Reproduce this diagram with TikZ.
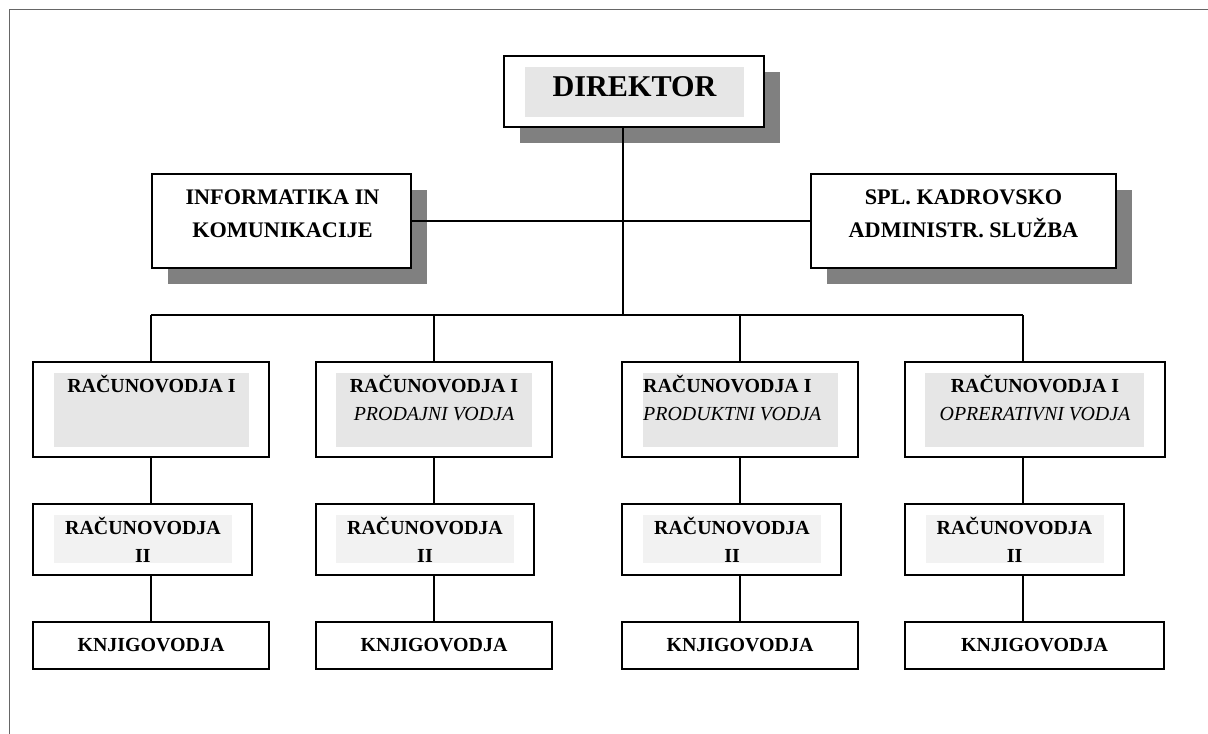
\documentclass[tikz,border=0pt]{standalone}
\usepackage{fontspec}
\setmainfont{Liberation Serif}
\usetikzlibrary{shadows}
\definecolor{shadowgray}{HTML}{808080}
\definecolor{bgA}{HTML}{E6E6E6}
\definecolor{bgB}{HTML}{F2F2F2}
\definecolor{framegray}{HTML}{666666}
\tikzset{
  box/.style n args={2}{draw=black, line width=1.9bp, fill=white, inner sep=0pt,
    minimum width=#1, minimum height=#2},
  sbox/.style n args={2}{box={#1}{#2},
    drop shadow={shadow xshift=16bp, shadow yshift=-16bp, fill=shadowgray, draw=none, opacity=1}},
  bgbox/.style n args={3}{fill=#1, draw=none, inner sep=0pt, minimum width=#2, minimum height=#3},
  tb/.style={font=\fontsize{20}{24}\selectfont\bfseries, inner sep=0pt, anchor=base},
  ti/.style={font=\fontsize{20}{24}\selectfont\itshape, inner sep=0pt, anchor=base},
  tbig/.style={font=\fontsize{22.3}{26}\selectfont\bfseries, inner sep=0pt, anchor=base},
  conn/.style={draw=black, line width=1.6bp},
}
\begin{document}
\begin{tikzpicture}[x=1bp,y=-1bp]
\useasboundingbox (0,0) rectangle (1208,734);
\fill[white] (0,0) rectangle (1208,734);
\draw[framegray, line width=1.8bp] (1208,9.5) -- (9.5,9.5) -- (9.5,734);

% top level
\node[sbox={260bp}{71bp}] (dir) at (634,91.5) {};
\node[bgbox={bgA}{219bp}{50bp}] (dirbg) at (634.5,92) {};
\node[font=\fontsize{30.3}{34}\selectfont\bfseries, inner sep=0pt, anchor=base] (tdir) at (634.5,97) {DIREKTOR};

\node[sbox={259bp}{94bp}] (inf) at (281.5,221) {};
\node[tbig] (tinf1) at (282.5,205) {INFORMATIKA IN};
\node[tbig] (tinf2) at (282.5,238) {KOMUNIKACIJE};

\node[sbox={305bp}{94bp}] (spl) at (963.5,221) {};
\node[tbig] (tspl1) at (963.5,205) {SPL. KADROVSKO};
\node[tbig] (tspl2) at (963.5,238) {ADMINISTR. SLUŽBA};

% row 1
\node[box={236bp}{95bp}] (r1c1) at (151,409.5) {};
\node[box={236bp}{95bp}] (r1c2) at (434,409.5) {};
\node[box={236bp}{95bp}] (r1c3) at (740,409.5) {};
\node[box={260bp}{95bp}] (r1c4) at (1035,409.5) {};
\node[bgbox={bgA}{195bp}{74bp}] (g1c1) at (151.5,410) {};
\node[bgbox={bgA}{196bp}{74bp}] (g1c2) at (434,410) {};
\node[bgbox={bgA}{195bp}{74bp}] (g1c3) at (740.5,410) {};
\node[bgbox={bgA}{219bp}{74bp}] (g1c4) at (1034.5,410) {};
\node[tb] (t1c1a) at (151.5,392) {RAČUNOVODJA I};
\node[tb] (t1c2a) at (434,392) {RAČUNOVODJA I};
\node[ti] (t1c2b) at (434,420) {PRODAJNI VODJA};
\node[tb, anchor=base west] (t1c3a) at (643,392) {RAČUNOVODJA I};
\node[ti, anchor=base west] (t1c3b) at (643,420) {PRODUKTNI VODJA};
\node[tb] (t1c4a) at (1035,392) {RAČUNOVODJA I};
\node[ti] (t1c4b) at (1035,420) {OPRERATIVNI VODJA};

% row 2
\node[box={219bp}{71bp}] (r2c1) at (142.5,539.5) {};
\node[box={218bp}{71bp}] (r2c2) at (425,539.5) {};
\node[box={219bp}{71bp}] (r2c3) at (731.5,539.5) {};
\node[box={219bp}{71bp}] (r2c4) at (1014.5,539.5) {};
\node[bgbox={bgB}{178bp}{48bp}] (g2c1) at (143,539) {};
\node[bgbox={bgB}{178bp}{48bp}] (g2c2) at (425,539) {};
\node[bgbox={bgB}{178bp}{48bp}] (g2c3) at (732,539) {};
\node[bgbox={bgB}{178bp}{48bp}] (g2c4) at (1014.5,539) {};
\node[tb] (t2c1a) at (143,534) {RAČUNOVODJA};
\node[tb] (t2c1b) at (143,562) {II};
\node[tb] (t2c2a) at (425,534) {RAČUNOVODJA};
\node[tb] (t2c2b) at (425,562) {II};
\node[tb] (t2c3a) at (732,534) {RAČUNOVODJA};
\node[tb] (t2c3b) at (732,562) {II};
\node[tb] (t2c4a) at (1014.5,534) {RAČUNOVODJA};
\node[tb] (t2c4b) at (1014.5,562) {II};

% row 3
\node[box={236bp}{47bp}] (r3c1) at (151,645.5) {};
\node[box={236bp}{47bp}] (r3c2) at (434,645.5) {};
\node[box={236bp}{47bp}] (r3c3) at (740,645.5) {};
\node[box={259bp}{47bp}] (r3c4) at (1034.5,645.5) {};
\node[tb] (t3c1) at (151,651) {KNJIGOVODJA};
\node[tb] (t3c2) at (434,651) {KNJIGOVODJA};
\node[tb] (t3c3) at (740,651) {KNJIGOVODJA};
\node[tb] (t3c4) at (1034.5,651) {KNJIGOVODJA};

% connectors
\coordinate (bt) at (623,315);
\coordinate (b1) at (151,315);
\coordinate (b2) at (434,315);
\coordinate (b3) at (740,315);
\coordinate (b4) at (1023,315);
\draw[conn] (dir.south -| bt) -- (bt);
\draw[conn] (inf.east) -- (spl.west);
\draw[conn] (b1) -- (b4);
\foreach \k in {1,2,3,4}{
  \draw[conn] (b\k) -- (r1c\k.north -| b\k);
  \draw[conn] (r1c\k.south -| b\k) -- (r2c\k.north -| b\k);
  \draw[conn] (r2c\k.south -| b\k) -- (r3c\k.north -| b\k);
}
\end{tikzpicture}
\end{document}
